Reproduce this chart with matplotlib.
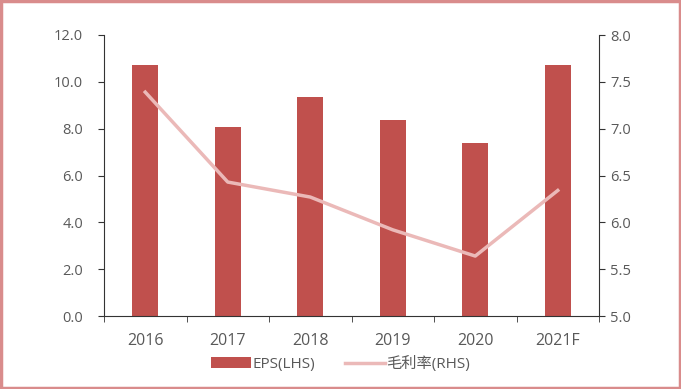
import matplotlib
matplotlib.use("Agg")
import matplotlib.pyplot as plt
from matplotlib.patches import Rectangle

plt.rcParams['font.family'] = ['Open Sans', 'Noto Sans CJK SC', 'DejaVu Sans']

years = ['2016', '2017', '2018', '2019', '2020', '2021F']
eps = [10.7, 8.05, 9.37, 8.35, 7.38, 10.7]
margin = [7.39, 6.43, 6.27, 5.92, 5.64, 6.34]

bar_color = '#c0504d'
line_color = '#ebb9b8'
txt = '#595959'

fig = plt.figure(figsize=(6.81, 3.89), dpi=100)
ax = fig.add_axes([104/681, 1-316/389, (599-104)/681, (316-35)/389])
x = list(range(len(years)))
b = ax.bar(x, eps, width=0.32, color=bar_color, label='EPS(LHS)', zorder=2)
ax.set_xlim(-0.5, 5.5)
ax.set_ylim(0, 12)
ax.set_yticks([0, 2, 4, 6, 8, 10, 12])
ax.set_yticklabels(['%.1f' % v for v in [0, 2, 4, 6, 8, 10, 12]])
ax.set_xticks(x)
ax.set_xticklabels(years)
ax.set_xticks([i - 0.5 for i in range(7)], minor=True)
ax.tick_params(axis='x', which='major', length=0, pad=12, labelsize=11.5, labelcolor=txt)
ax.tick_params(axis='x', which='minor', length=4, direction='out', color='#333333')
ax.tick_params(axis='y', length=4, direction='out', pad=11, labelsize=10.5, labelcolor=txt, color='#333333')
for s in ['top', 'right']:
    ax.spines[s].set_visible(False)
ax.spines['left'].set_color('#333333')
ax.spines['bottom'].set_color('#333333')

ax2 = ax.twinx()
l, = ax2.plot(x, margin, color=line_color, lw=2.5, label='毛利率(RHS)', zorder=3)
ax2.set_ylim(5, 8)
ax2.set_yticks([5, 5.5, 6, 6.5, 7, 7.5, 8])
ax2.set_yticklabels(['%.1f' % v for v in [5, 5.5, 6, 6.5, 7, 7.5, 8]])
ax2.tick_params(axis='y', length=4, direction='out', pad=4, labelsize=10.5, labelcolor=txt, color='#333333')
for s in ['top', 'left', 'bottom']:
    ax2.spines[s].set_visible(False)
ax2.spines['right'].set_color('#333333')

fig.legend([b, l], ['EPS(LHS)', '毛利率(RHS)'], loc='center', bbox_to_anchor=(0.5, 1-364/389),
           ncol=2, frameon=False, fontsize=11, labelcolor=txt, handlelength=2.6,
           handleheight=0.7, columnspacing=2.0, handletextpad=0.1)

fig.patches.append(Rectangle((0.002, 0.003), 0.996, 0.994, transform=fig.transFigure,
                             fill=False, edgecolor='#d98c8c', lw=2.5))

fig.savefig('out.png', dpi=100)
